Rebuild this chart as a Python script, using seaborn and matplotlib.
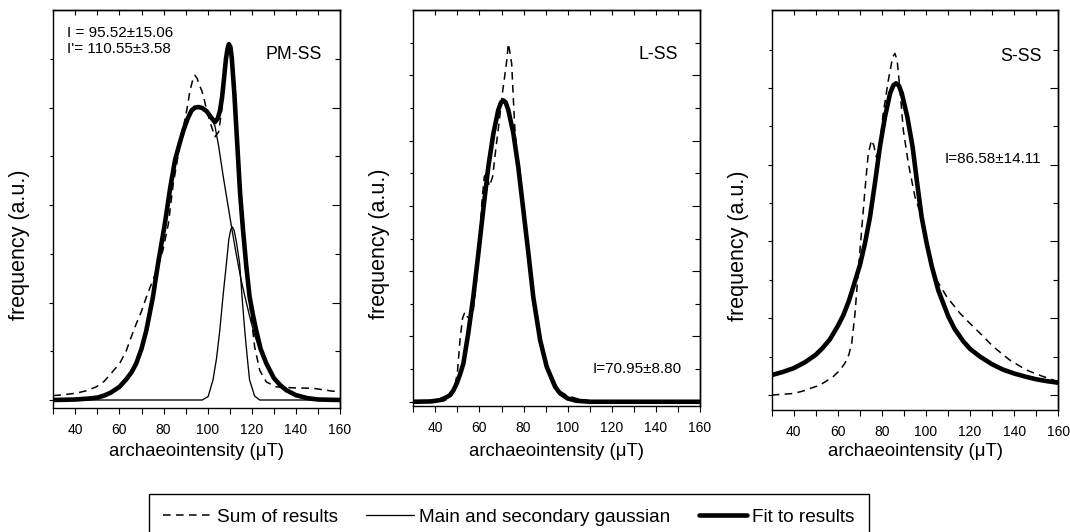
import numpy as np
import pandas as pd
import matplotlib
matplotlib.use("Agg")
import matplotlib.pyplot as plt
import seaborn as sns
from matplotlib.lines import Line2D
from matplotlib.ticker import FixedLocator, NullFormatter

# ---------------- data ----------------
# Panel PM-SS
pm_fit_x = [30, 40, 46, 50, 53, 56, 60, 63, 65.5, 67.6, 70, 72.2, 75.2, 77.5, 80.6, 83, 85.2, 87.2,
            89, 91, 92.7, 94.3, 95.8, 97.5, 99.6, 101.5, 103.3, 104.6, 105.6, 106.5, 107.2, 108.3,
            109.0, 109.6, 110.3, 110.9, 112.1, 113.4, 114.7, 116, 117.5, 119, 120.5, 122, 124,
            126.6, 130, 133, 135.7, 140, 145, 150, 160]
pm_fit_y = [0.0, 0.01, 0.03, 0.05, 0.09, 0.15, 0.27, 0.42, 0.57, 0.75, 1.05, 1.43, 2.12, 2.8, 3.62,
            4.35, 4.92, 5.25, 5.53, 5.78, 5.94, 6.0, 6.01, 5.99, 5.92, 5.8, 5.70, 5.78, 5.94, 6.2,
            6.5, 7.0, 7.2, 7.3, 7.24, 7.03, 6.28, 5.26, 4.24, 3.5, 2.75, 2.12, 1.75, 1.43, 1.05,
            0.75, 0.45, 0.3, 0.2, 0.1, 0.04, 0.01, 0.0]
pm_main_x = [30, 40, 46, 50, 53, 56, 60, 63, 65.5, 67.6, 70, 72.2, 75.2, 77.5, 80.6, 83, 85.2, 87.2,
             89, 91, 92.7, 94.3, 95.8, 97.5, 99.6, 101.5, 103.3, 105, 107, 109, 111, 113, 115, 117,
             119, 121, 123, 126, 130, 135, 140, 148, 160]
pm_main_y = [0.0, 0.01, 0.03, 0.05, 0.09, 0.15, 0.27, 0.42, 0.57, 0.75, 1.05, 1.43, 2.12, 2.8, 3.62,
             4.35, 4.92, 5.25, 5.53, 5.78, 5.94, 6.0, 6.01, 5.99, 5.92, 5.8, 5.62, 5.2, 4.6, 4.05,
             3.5, 2.98, 2.5, 2.1, 1.72, 1.38, 1.1, 0.78, 0.45, 0.2, 0.09, 0.02, 0.0]
pm_sec_x = [30, 97.5, 100.2, 102.4, 104.0, 105.5, 107.0, 108.5, 109.6, 110.5, 111.2, 112.0, 113.0,
            114.5, 115.7, 116.8, 118.0, 119.0, 121.3, 123.6, 160]
pm_sec_y = [0.0, 0.0, 0.07, 0.41, 0.85, 1.43, 2.15, 2.80, 3.30, 3.50, 3.55, 3.48, 3.25, 2.80, 2.05,
            1.43, 0.85, 0.41, 0.08, 0.0, 0.0]
pm_sum_x = [30, 35, 40.4, 45, 49.5, 53, 56.3, 60.1, 63, 65.4, 67.5, 69.9, 72.5, 75.2, 77.5, 79.7,
            82.2, 84.4, 86, 87.4, 89, 90.5, 92, 93.3, 94.2, 95.2, 96.3, 97.3, 98.5, 99.6, 101.8,
            103.3, 105, 106.5, 107.7, 108.7, 109.6, 110.8, 112, 113.5, 115, 116.5, 118, 119.5,
            121.3, 123.6, 126.6, 131.1, 138.5, 147.8, 156.9, 160]
pm_sum_y = [0.09, 0.11, 0.14, 0.19, 0.27, 0.38, 0.55, 0.75, 1.0, 1.3, 1.55, 1.81, 2.15, 2.46, 2.75,
            3.07, 3.62, 4.44, 4.85, 5.26, 5.6, 5.94, 6.35, 6.58, 6.66, 6.6, 6.45, 6.35, 6.15, 5.94,
            5.60, 5.40, 5.5, 6.0, 6.6, 7.05, 7.25, 7.0, 6.2, 5.1, 4.1, 3.2, 2.4, 1.8, 1.09, 0.61,
            0.37, 0.27, 0.25, 0.24, 0.18, 0.18]

# Panel L-SS
l_fit_x = [30, 38, 42.1, 44.5, 46.6, 48.2, 49.7, 51.2, 52.7, 54.9, 57.2, 59.5, 61.7, 64.0, 66.3,
           68.5, 69.8, 70.8, 71.9, 73.1, 75.4, 77.6, 79.9, 82.2, 84.4, 87.5, 90.5, 94.3, 96.5, 100,
           104, 110, 160]
l_fit_y = [0.0, 0.01, 0.05, 0.12, 0.2, 0.35, 0.56, 0.84, 1.17, 2.09, 3.21, 4.54, 5.87, 7.19, 8.21,
           8.93, 9.17, 9.23, 9.17, 8.93, 8.21, 7.19, 5.87, 4.54, 3.21, 1.89, 1.07, 0.46, 0.26, 0.1,
           0.03, 0.0, 0.0]
l_sum_x = [30, 40, 44, 47, 48.5, 50, 51.2, 52.3, 53.4, 54.5, 56, 57.2, 58.5, 60, 61.2, 62.2, 63.3,
           64.5, 66, 67.5, 69, 70.5, 71.5, 72.4, 73.1, 73.8, 74.6, 75.4, 76.0, 76.9, 77.6, 79.9,
           82.2, 84.4, 87.5, 90.5, 94.3, 96.5, 100, 104, 110, 115, 160]
l_sum_y = [0.0, 0.0, 0.03, 0.15, 0.35, 0.9, 1.9, 2.55, 2.75, 2.6, 2.55, 2.8, 3.6, 4.9, 6.2, 6.9,
           7.0, 6.6, 6.9, 7.8, 8.6, 9.5, 10.0, 10.46, 10.97, 10.7, 10.36, 9.23, 8.42, 7.6, 7.19,
           5.87, 4.54, 3.21, 1.95, 1.1, 0.55, 0.32, 0.18, 0.1, 0.03, 0.0, 0.0]

# Panel S-SS
s_fit_x = [30, 35, 40, 45, 50, 53, 56.4, 60, 62.5, 65, 67, 70, 72.3, 74.6, 76.8, 79.1, 81.4, 83.7,
           85.2, 86.4, 87.7, 89, 91.5, 93.9, 96, 98, 100.3, 102.6, 105.6, 110.1, 113, 116.9, 120,
           124.5, 130, 135, 140, 145, 150, 155, 160]
s_fit_y = [0.52, 0.6, 0.7, 0.85, 1.05, 1.22, 1.45, 1.8, 2.08, 2.45, 2.82, 3.38, 3.95, 4.64, 5.51,
           6.47, 7.25, 7.86, 8.07, 8.12, 8.06, 7.86, 7.25, 6.47, 5.51, 4.64, 3.95, 3.36, 2.72, 2.05,
           1.72, 1.4, 1.2, 1.0, 0.8, 0.66, 0.56, 0.48, 0.41, 0.36, 0.32]
s_sum_x = [30, 35, 39.8, 44, 47.4, 51.9, 55, 57.9, 61, 63.2, 65, 66.3, 67.8, 69.3, 70.8, 72.3, 73.8,
           75.3, 76.3, 77.5, 79, 80.5, 82.9, 84.9, 85.9, 86.9, 88.2, 89.7, 92.0, 95.0, 98, 100.3,
           102.6, 104.8, 109.4, 115.4, 121.4, 124.5, 130.5, 138, 145.6, 153.2, 160]
s_sum_y = [0.0, 0.02, 0.04, 0.1, 0.17, 0.26, 0.37, 0.48, 0.65, 0.83, 1.05, 1.35, 2.13, 3.26, 4.30,
           5.34, 6.29, 6.64, 6.5, 6.2, 6.5, 7.3, 8.2, 8.81, 8.9, 8.72, 7.94, 6.9, 6.03, 5.16, 4.64,
           3.95, 3.40, 3.0, 2.56, 2.13, 1.78, 1.61, 1.26, 0.91, 0.65, 0.48, 0.35]

panel_names = ["PM-SS", "L-SS", "S-SS"]
panel_notes = ["I = 95.52\u00b115.06\nI'= 110.55\u00b13.58", "I=70.95\u00b18.80", "I=86.58\u00b114.11"]
x_major = [40, 60, 80, 100, 120, 140, 160]
x_minor = [30, 50, 70, 90, 110, 130, 150]
legend_labels = ["Sum of results", "Main and secondary gaussian", "Fit to results"]

# ---------------- style ----------------
sns.set_style("ticks")
plt.rcParams['font.family'] = ['Liberation Sans', 'DejaVu Sans']
plt.rcParams['axes.edgecolor'] = 'black'
plt.rcParams['xtick.color'] = 'black'
plt.rcParams['ytick.color'] = 'black'
plt.rcParams['text.color'] = 'black'
plt.rcParams['axes.labelcolor'] = 'black'

W, H = 1070, 532
fig = plt.figure(figsize=(W / 100, H / 100), dpi=100)
fig.patch.set_facecolor('white')

DASH = (5, 3.5)
LW_THICK, LW_THIN, LW_DASH = 3.3, 0.95, 1.1

# pixel boxes: left, top, right, bottom
boxes = [(53.3, 10, 340, 408), (413.3, 10, 700, 406), (771.7, 10, 1058.3, 410)]
ylims = [(-0.164, 8.0), (-0.13, 12.0), (-0.39, 10.03)]
ytop = [7, 11, 9]
name_pos = [(0.936, 0.887), (0.924, 0.887), (0.942, 0.883)]
note_pos = [(0.047, 0.96, 'left', 'top'), (0.936, 0.093, 'right', 'center'),
            (0.942, 0.628, 'right', 'center')]

series = [
    dict(sum=(pm_sum_x, pm_sum_y), thin=[(pm_main_x, pm_main_y), (pm_sec_x, pm_sec_y)],
         fit=(pm_fit_x, pm_fit_y)),
    dict(sum=(l_sum_x, l_sum_y), thin=[], fit=(l_fit_x, l_fit_y)),
    dict(sum=(s_sum_x, s_sum_y), thin=[], fit=(s_fit_x, s_fit_y)),
]

for i, (bx, s) in enumerate(zip(boxes, series)):
    l, t, r, b = bx
    ax = fig.add_axes([l / W, 1 - b / H, (r - l) / W, (b - t) / H])
    ax.set_facecolor('white')

    sx, sy = s['sum']
    sns.lineplot(x=sx, y=sy, ax=ax, color='black', lw=LW_DASH, errorbar=None)
    ax.lines[-1].set_dashes(DASH)
    for tx, ty in s['thin']:
        sns.lineplot(x=tx, y=ty, ax=ax, color='black', lw=LW_THIN, errorbar=None)
    fx, fy = s['fit']
    sns.lineplot(x=fx, y=fy, ax=ax, color='black', lw=LW_THICK, errorbar=None,
                 solid_joinstyle='round', solid_capstyle='butt')

    ax.set_xlim(30, 160)
    ax.set_ylim(*ylims[i])
    for sp in ax.spines.values():
        sp.set_visible(True)
        sp.set_linewidth(1.0)
        sp.set_color('black')

    ymaj = list(range(0, ytop[i] + 1, 2))
    ymin = list(range(1, ytop[i] + 1, 2))
    ax.xaxis.set_major_locator(FixedLocator(x_major))
    ax.xaxis.set_minor_locator(FixedLocator(x_minor))
    ax.yaxis.set_major_locator(FixedLocator(ymaj))
    ax.yaxis.set_minor_locator(FixedLocator(ymin))
    ax.yaxis.set_major_formatter(NullFormatter())
    ax.tick_params(axis='x', which='both', direction='out', length=4.5, width=0.8,
                   bottom=True, top=False, labelsize=10, pad=6)
    ax.tick_params(axis='y', which='major', direction='out', length=3.0, width=0.8,
                   left=True, right=False)
    ax.tick_params(axis='y', which='minor', direction='out', length=2.4, width=0.8,
                   left=True, right=False)

    secx = ax.secondary_xaxis('top')
    secx.xaxis.set_major_locator(FixedLocator(x_major))
    secx.xaxis.set_minor_locator(FixedLocator(x_minor))
    secx.tick_params(axis='x', which='both', direction='in', length=3.5, width=0.8,
                     labeltop=False)
    secx.spines['top'].set_linewidth(1.0)
    secy = ax.secondary_yaxis('right')
    secy.yaxis.set_major_locator(FixedLocator(ymaj))
    secy.yaxis.set_minor_locator(FixedLocator(ymin))
    secy.tick_params(axis='y', which='major', direction='in', length=5.5, width=0.8,
                     labelright=False)
    secy.tick_params(axis='y', which='minor', direction='in', length=3.5, width=0.8)
    secy.spines['right'].set_linewidth(1.0)

    ax.set_xlabel("archaeointensity (\u03bcT)", fontsize=13.4)
    ax.xaxis.set_label_coords(0.5, -(452 - b) / (b - t))
    ax.xaxis.label.set_va('center')
    ax.set_ylabel("frequency (a.u.)", fontsize=15.5)
    ax.yaxis.set_label_coords(-33.3 / (r - l), 0.41)
    ax.yaxis.label.set_va('center')

    nx, ny = name_pos[i]
    ax.text(nx, ny, panel_names[i], transform=ax.transAxes, ha='right', va='center',
            fontsize=12.8)
    px_, py_, ha, va = note_pos[i]
    ax.text(px_, py_, panel_notes[i], transform=ax.transAxes, ha=ha, va=va,
            fontsize=11, linespacing=1.15)

handles = [Line2D([], [], color='black', lw=LW_DASH, dashes=DASH),
           Line2D([], [], color='black', lw=LW_THIN),
           Line2D([], [], color='black', lw=LW_THICK)]
leg = fig.legend(handles, legend_labels, loc='upper left',
                 bbox_to_anchor=(149 / W, 1 - 494.3 / H), bbox_transform=fig.transFigure,
                 ncol=3, fontsize=13.7, handlelength=2.5, handletextpad=0.3,
                 columnspacing=1.5, borderpad=0.75, borderaxespad=0, frameon=True,
                 fancybox=False, edgecolor='black', framealpha=1)
leg.get_frame().set_linewidth(1.0)

fig.savefig("out.png", dpi=100, facecolor='white')
